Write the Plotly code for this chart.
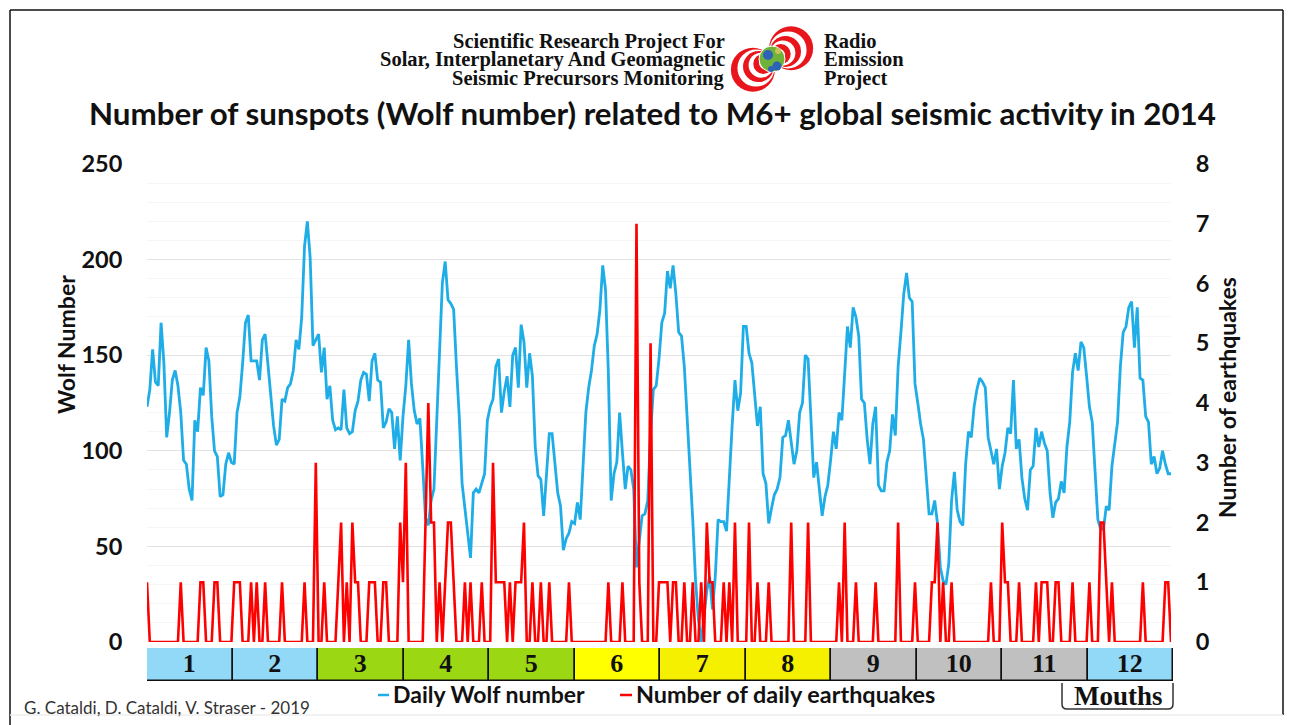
import plotly.graph_objects as go

W, H = 1293, 725

wolf = [123,132,153,136,134,167,146,107,120,137,142,134,120,95,93,80,74,116,110,133,129,154,147,118,100,97,76,77,93,99,94,93,120,128,146,167,171,147,147,147,137,158,161,144,128,113,103,106,127,126,133,135,142,158,153,170,207,220,201,155,158,161,141,154,127,134,116,111,112,111,132,112,109,110,121,126,137,141,140,126,147,151,137,136,112,115,122,120,101,118,95,118,134,158,135,121,114,117,92,65,61,74,80,118,156,188,199,179,177,174,144,118,83,71,57,44,78,80,78,83,88,116,123,127,144,148,120,131,139,123,150,154,133,166,157,133,151,139,102,87,85,66,90,109,109,92,78,71,48,54,57,63,62,73,64,92,120,133,142,155,161,174,197,184,141,74,88,94,120,99,80,92,90,80,39,53,66,67,74,109,132,134,148,167,172,194,185,197,182,162,160,144,118,86,64,32,12,0,15,27,34,17,34,64,63,63,58,88,113,137,121,130,165,165,151,146,128,113,123,88,83,62,70,77,80,86,107,108,116,104,93,100,120,125,150,148,118,86,94,80,66,76,82,95,110,101,120,116,142,165,154,175,170,160,127,125,106,93,114,123,82,79,79,94,100,119,108,144,162,182,193,180,178,135,125,114,106,86,67,67,74,62,39,32,30,41,74,89,69,63,61,93,110,107,123,132,138,136,133,107,100,93,101,80,92,99,112,109,137,101,106,86,75,69,90,92,112,102,110,104,100,78,65,73,75,84,78,102,115,141,151,142,157,154,139,123,115,90,64,59,59,71,69,92,105,115,144,162,165,175,178,154,175,138,137,118,115,93,97,88,91,100,93,88,88]

quake_days = [1,13,20,21,25,26,32,33,34,38,40,43,49,57,61,64,69,70,72,74,75,76,80,81,82,85,86,91,92,93,100,101,102,103,105,107,108,109,110,114,116,120,124,125,126,127,128,130,132,133,134,135,138,141,144,151,165,170,175,176,180,183,184,185,186,188,189,192,195,198,200,201,202,206,208,210,215,218,222,230,236,247,249,253,260,268,274,280,281,282,284,287,301,305,306,307,311,317,319,320,321,324,325,330,336,340,341,342,344,355,363,364]
quake_counts = [1,1,1,1,1,1,1,1,1,1,1,1,1,1,3,1,1,2,1,2,1,1,1,1,1,1,1,2,1,3,2,4,2,2,1,1,2,2,1,1,1,1,3,1,1,1,1,1,1,1,1,2,1,1,1,1,1,1,7,1,5,1,1,1,1,1,1,1,1,1,2,1,1,1,1,2,2,1,1,2,2,1,2,1,1,2,1,1,1,2,1,1,1,2,1,1,1,1,1,1,1,1,1,1,1,2,2,1,1,1,1,1]

days = list(range(1, 366))
counts_by_day = dict(zip(quake_days, quake_counts))
quakes = [counts_by_day.get(d, 0) for d in days]

months = ["1","2","3","4","5","6","7","8","9","10","11","12"]
month_colors = ["#92D8F7","#92D8F7","#9BD712","#9BD712","#9BD712","#FFFF00","#F5F000","#F5F000","#C0C0C0","#C0C0C0","#C0C0C0","#92D8F7"]

BLUE, RED = "#1EADE6", "#FF0000"
px = lambda x: x / W
py = lambda y: 1 - y / H

fig = go.Figure()
fig.add_trace(go.Scatter(x=days, y=wolf, mode="lines", xaxis="x", yaxis="y",
                         line=dict(color=BLUE, width=2.8), cliponaxis=False, showlegend=False))
fig.add_trace(go.Scatter(x=days, y=quakes, mode="lines", xaxis="x", yaxis="y2",
                         line=dict(color=RED, width=2.6), cliponaxis=False, showlegend=False))
fig.add_trace(go.Bar(x=list(range(1, 13)), y=[1]*12, xaxis="x3", yaxis="y3", width=1,
                     marker=dict(color=month_colors, line=dict(color="#111111", width=1.5)),
                     text=months, textposition="inside", insidetextanchor="middle", textangle=0,
                     constraintext="none",
                     textfont=dict(family="Liberation Serif", size=26, color="#111111", weight="bold"),
                     showlegend=False, hoverinfo="skip"))

tick_font = dict(family="Lato", size=23.5, color="#111111", weight="bold")
fig.update_layout(
    width=W, height=H, margin=dict(l=0, r=0, t=0, b=0, autoexpand=False),
    paper_bgcolor="white", plot_bgcolor="white", bargap=0,
    xaxis=dict(domain=[px(147), px(1171)], range=[1, 365], visible=False),
    yaxis=dict(domain=[py(642), py(164)], range=[0, 250], dtick=50, tickfont=tick_font,
               ticks="outside", ticklen=19, tickcolor="white", showline=False, zeroline=False,
               gridcolor="#E2E2E2", gridwidth=1,
               minor=dict(dtick=10, showgrid=True, gridcolor="#F5F5F5", gridwidth=1, ticks="")),
    yaxis2=dict(domain=[py(642), py(164)], range=[0, 8], dtick=1, overlaying="y", side="right",
                anchor="x", tickfont=tick_font, ticks="outside", ticklen=19, tickcolor="white",
                showgrid=False, zeroline=False, showline=False),
    xaxis3=dict(domain=[px(147), px(1173)], range=[0.5, 12.5], visible=False, anchor="y3"),
    yaxis3=dict(domain=[py(681), py(648)], range=[0, 1], visible=False, anchor="x3"),
    font=dict(family="Lato", color="#111111"),
)

def note(x, y, text, size, family="Lato", anchor="left", weight="bold", angle=0, color="#111111", yanchor="middle"):
    fig.add_annotation(xref="paper", yref="paper", x=px(x), y=py(y), text=text, showarrow=False,
                       xanchor=anchor, yanchor=yanchor, textangle=angle,
                       font=dict(family=family, size=size, color=color, weight=weight))

note(652.5, 113, "Number of sunspots (Wolf number) related to M6+ global seismic activity in 2014", 31.3, anchor="center")
serif = "Liberation Serif"
note(727, 41, "Scientific Research Project For", 20.5, serif, "right")
note(727, 59, "Solar, Interplanetary And Geomagnetic", 20.5, serif, "right")
note(727, 78, "Seismic Precursors Monitoring", 20.5, serif, "right")
note(822, 41, "Radio", 20.5, serif)
note(822, 59, "Emission", 20.5, serif)
note(822, 78, "Project", 20.5, serif)
note(66, 345, "Wolf Number", 23, anchor="center", angle=-90)
note(1227, 398, "Number of earthquakes", 23, anchor="center", angle=-90)
note(391, 694, "Daily Wolf number", 23)
note(634, 694, "Number of daily earthquakes", 23.4)
note(22, 707, "G. Cataldi, D. Cataldi, V. Straser - 2019", 17, weight="normal", color="#333333")
note(1118, 696, "Mouths", 27, serif, "center")

def circle(cx, cy, r, **kw):
    fig.add_shape(type="circle", xref="paper", yref="paper", x0=px(cx - r), x1=px(cx + r),
                  y0=py(cy - r), y1=py(cy + r), **kw)

def seg(x0, y0, x1, y1, color="#111111", width=1.5):
    fig.add_shape(type="line", xref="paper", yref="paper", x0=px(x0), x1=px(x1), y0=py(y0), y1=py(y1),
                  line=dict(color=color, width=width))

# page frame
seg(10, 10, 10, 725)
seg(10, 10, 1283, 10)
seg(1283, 10, 1283, 715)
seg(10, 715, 1283, 715, color="#EEEEEE")

# legend dashes
seg(378, 695, 389, 695, BLUE, 2.5)
seg(620, 695, 632, 695, RED, 2.5)

# "Mouths" box
fig.add_shape(type="path", xref="paper", yref="paper",
              path=f"M {px(1062)} {py(683)} L {px(1062)} {py(704)} Q {px(1062)} {py(709)} {px(1067)} {py(709)} "
                   f"L {px(1168)} {py(709)} Q {px(1173)} {py(709)} {px(1173)} {py(704)} L {px(1173)} {py(683)}",
              line=dict(color="#333333", width=1.5))

# logo: nested rings touching at the globe, then the globe
for ux, uy in [(-0.87, 0.49), (0.87, -0.49)]:
    for r, colour in [(22, "#E8161C"), (18.5, "white"), (15.5, "#E8161C"), (12.5, "white"), (10, "#E8161C"), (7, "white")]:
        circle(772 + ux * r, 59 + uy * r, r, line=dict(width=0), fillcolor=colour)
circle(772, 59, 13, line=dict(color="white", width=1), fillcolor="#6FB23A")
circle(768, 55, 5, line=dict(width=0), fillcolor="#2E62B8")
circle(777, 66, 4.5, line=dict(width=0), fillcolor="#2E62B8")
circle(771, 69, 3, line=dict(width=0), fillcolor="#2E62B8")
circle(778, 51, 3, line=dict(width=0), fillcolor="#C8C45A")

fig.write_html("out.html", config={"displayModeBar": False}, post_script="document.body.style.margin='0';")
